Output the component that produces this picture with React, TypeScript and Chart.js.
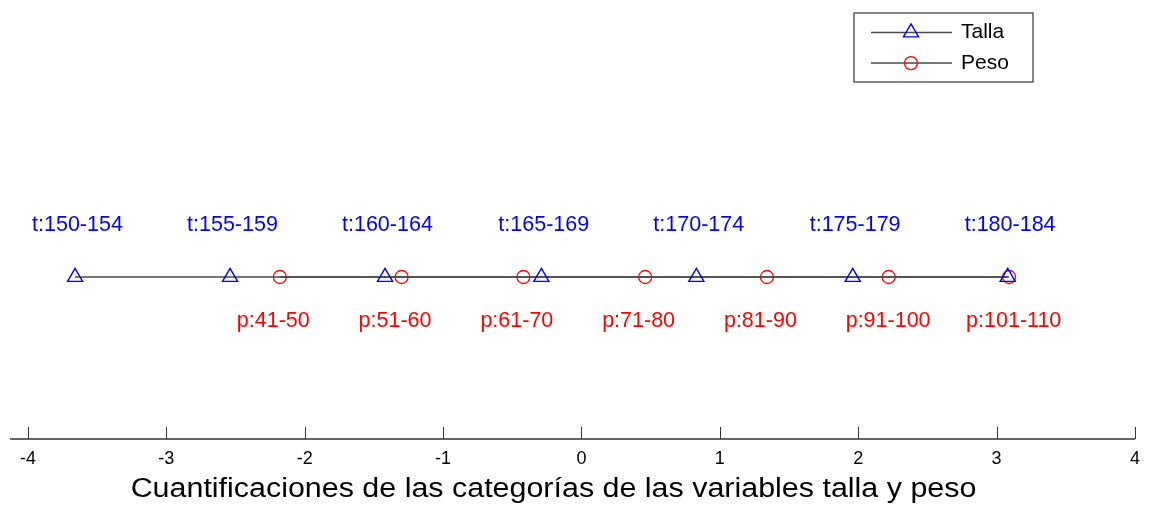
import { useEffect, useRef } from "react";
import { Chart, registerables } from "chart.js";
import { drawPoint } from "chart.js/helpers";

Chart.register(...registerables);

// Category quantifications for height (talla) and weight (peso)
const tallaCategories = ["t:150-154", "t:155-159", "t:160-164", "t:165-169", "t:170-174", "t:175-179", "t:180-184"];
const tallaValues = [-3.66, -2.54, -1.42, -0.29, 0.83, 1.96, 3.08];

const pesoCategories = ["p:41-50", "p:51-60", "p:61-70", "p:71-80", "p:81-90", "p:91-100", "p:101-110"];
const pesoValues = [-2.18, -1.3, -0.42, 0.46, 1.34, 2.22, 3.09];

const xTickValues = [-4, -3, -2, -1, 0, 1, 2, 3, 4];
const xAxisTitle = "Cuantificaciones de las categorías de las variables talla y peso";

const FONT = "'Liberation Sans', Arial, Helvetica, sans-serif";
const BLUE = "#0000ff";
const RED = "#ff0000";
const LINE = "#4a4a4a";

const categoryLabelsPlugin = {
  id: "categoryLabels",
  afterDatasetsDraw(chart: any) {
    const ctx = chart.ctx;
    ctx.save();
    ctx.font = `21.5px ${FONT}`;
    ctx.textAlign = "left";
    ctx.textBaseline = "middle";
    chart.data.datasets.forEach((ds: any, i: number) => {
      const meta = chart.getDatasetMeta(i);
      const names: string[] = ds.categoryNames;
      const above = ds.labelAbove;
      ctx.fillStyle = ds.pointBorderColor;
      meta.data.forEach((pt: any, j: number) => {
        ctx.fillText(names[j], pt.x - 43, above ? pt.y - 52 : pt.y + 44);
      });
    });
    ctx.restore();
  },
};

const axisPlugin = {
  id: "inwardAxis",
  afterDraw(chart: any) {
    const ctx = chart.ctx;
    const xs = chart.scales.x;
    const y = chart.chartArea.bottom;
    ctx.save();
    // axis line
    ctx.strokeStyle = "#333333";
    ctx.lineWidth = 1.5;
    ctx.beginPath();
    ctx.moveTo(xs.getPixelForValue(-4.13), y);
    ctx.lineTo(xs.getPixelForValue(4), y);
    ctx.stroke();
    // tick marks pointing into the plot
    ctx.lineWidth = 1;
    xTickValues.forEach((v) => {
      const px = Math.round(xs.getPixelForValue(v)) + 0.5;
      ctx.beginPath();
      ctx.moveTo(px, y);
      ctx.lineTo(px, y - 12);
      ctx.stroke();
    });
    // axis title, drawn slightly widened
    const cx = (chart.chartArea.left + chart.chartArea.right) / 2 - 28;
    ctx.fillStyle = "#000000";
    ctx.font = `27px ${FONT}`;
    ctx.textAlign = "center";
    ctx.textBaseline = "middle";
    ctx.translate(cx, 490);
    ctx.scale(1.127, 1);
    ctx.fillText(xAxisTitle, 0, 0);
    ctx.restore();
  },
};

const boxedLegendPlugin = {
  id: "boxedLegend",
  afterDraw(chart: any) {
    const ctx = chart.ctx;
    const left = 854;
    const top = 13;
    const w = 179;
    const h = 69;
    ctx.save();
    ctx.fillStyle = "#ffffff";
    ctx.fillRect(left, top, w, h);
    ctx.strokeStyle = "#444444";
    ctx.lineWidth = 1.3;
    ctx.strokeRect(left, top, w, h);
    chart.data.datasets.forEach((ds: any, i: number) => {
      const y = top + 19.5 + i * 30.6;
      ctx.strokeStyle = LINE;
      ctx.lineWidth = 1.5;
      ctx.beginPath();
      ctx.moveTo(left + 17, y);
      ctx.lineTo(left + 98, y);
      ctx.stroke();
      ctx.strokeStyle = ds.pointBorderColor;
      ctx.fillStyle = "rgba(0,0,0,0)";
      ctx.lineWidth = ds.pointBorderWidth;
      drawPoint(ctx, { pointStyle: ds.pointStyle, radius: ds.pointRadius, borderWidth: ds.pointBorderWidth, rotation: 0 }, left + 57, y);
      ctx.fillStyle = "#000000";
      ctx.font = `21px ${FONT}`;
      ctx.textAlign = "left";
      ctx.textBaseline = "middle";
      ctx.fillText(ds.label, left + 107, y);
    });
    ctx.restore();
  },
};

export default function App() {
  const ref = useRef<HTMLCanvasElement | null>(null);

  useEffect(() => {
    if (!ref.current) return;
    const chart = new Chart(ref.current, {
      type: "scatter",
      data: {
        datasets: [
          {
            label: "Talla",
            data: tallaValues.map((v) => ({ x: v, y: 0 })),
            showLine: true,
            borderColor: LINE,
            borderWidth: 1.5,
            pointStyle: "triangle",
            pointRadius: 8.7,
            pointBorderWidth: 1.4,
            pointBorderColor: BLUE,
            pointBackgroundColor: "rgba(0,0,0,0)",
            categoryNames: tallaCategories,
            labelAbove: true,
          } as any,
          {
            label: "Peso",
            data: pesoValues.map((v) => ({ x: v, y: 0 })),
            showLine: true,
            borderColor: LINE,
            borderWidth: 1.5,
            pointStyle: "circle",
            pointRadius: 6.5,
            pointBorderWidth: 1.3,
            pointBorderColor: RED,
            pointBackgroundColor: "rgba(0,0,0,0)",
            categoryNames: pesoCategories,
            labelAbove: false,
          } as any,
        ],
      },
      options: {
        animation: false,
        responsive: false,
        layout: { padding: { left: 28, right: 10, top: 115, bottom: 0 } },
        plugins: {
          legend: { display: false },
          tooltip: { enabled: false },
          title: { display: false },
        },
        scales: {
          x: {
            type: "linear",
            min: -4,
            max: 4,
            afterBuildTicks: (scale: any) => {
              scale.ticks = xTickValues.map((v) => ({ value: v }));
            },
            afterFit: (scale: any) => {
              scale.height = 66;
            },
            grid: { display: false, drawTicks: false },
            border: { display: false },
            ticks: {
              padding: 9,
              color: "#000000",
              font: { family: FONT, size: 18 },
              maxRotation: 0,
            },
          },
          y: {
            display: false,
            min: -1,
            max: 1,
          },
        },
      },
      plugins: [categoryLabelsPlugin, axisPlugin, boxedLegendPlugin],
    });
    return () => chart.destroy();
  }, []);

  return (
    <div style={{ position: "fixed", left: 0, top: 0, width: 1149, height: 505, background: "#ffffff" }}>
      <canvas ref={ref} width={1149} height={505} />
    </div>
  );
}
